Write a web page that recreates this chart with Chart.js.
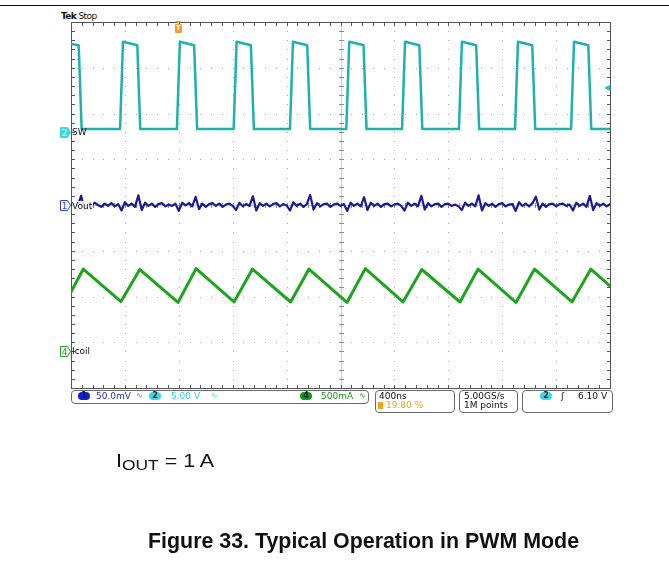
<!DOCTYPE html>
<html>
<head>
<meta charset="utf-8">
<script src="https://cdn.jsdelivr.net/npm/chart.js@4.4.0/dist/chart.umd.min.js"></script>
<style>
  body { margin: 0; background: #fff; }
  #page { position: relative; width: 669px; height: 565px; overflow: hidden; font-family: "DejaVu Sans", sans-serif; }
  #scope { position: absolute; left: 0; top: 0; }
  .abs { position: absolute; white-space: nowrap; }
  .s9 { font-size: 9px; line-height: 10px; }
  .lbl { background: rgba(255,255,255,0.9); padding-right: 1px; }
  .box { position: absolute; border: 1px solid #6a6a6a; border-radius: 4px; }
  .pill { position: absolute; width: 12px; height: 8px; border-radius: 5px; font-size: 8px; line-height: 8px; text-align: center; font-weight: bold; color: #102040; }
  .bw { font-size: 8px; }
</style>
</head>
<body>
<div id="page">
  <div class="abs" style="left:0;top:5px;width:669px;height:1px;background:#111"></div>
  <div class="abs s9" style="left:61px;top:11px;color:#111;letter-spacing:-0.6px"><b>Tek</b> Stop</div>

  <canvas id="scope" width="669" height="565"></canvas>

  <!-- trigger position marker -->
  <div class="abs" style="left:175px;top:21px;width:0;height:0;border-left:3.5px solid transparent;border-right:3.5px solid transparent;border-top:3px solid #f0a020"></div>
  <div class="abs" style="left:175px;top:24px;width:7px;height:9px;background:#f0a020;border-radius:1px;color:#fff;font-size:7px;line-height:9px;text-align:center;font-weight:bold">T</div>
  <!-- trigger level marker -->
  <div class="abs" style="left:604px;top:84px;color:#22c4d0;font-size:8px;line-height:8px">◀</div>

  <!-- channel markers -->
  <svg class="abs" style="left:60px;top:127px" width="12" height="11"><polygon points="0.5,0.5 7.5,0.5 10.5,5.5 7.5,10.5 0.5,10.5" fill="#3cd6dc" stroke="#3cd6dc"/><text x="4.5" y="9" font-size="9" fill="#e8ffff" text-anchor="middle" font-family="DejaVu Sans">2</text></svg>
  <div class="abs s9" style="left:72px;top:127px;color:#111">SW</div>
  <svg class="abs" style="left:60px;top:200px" width="12" height="11"><polygon points="0.5,0.5 7.5,0.5 10.5,5.5 7.5,10.5 0.5,10.5" fill="#fff" stroke="#3344cc"/><text x="4.5" y="9" font-size="9" fill="#3344cc" text-anchor="middle" font-family="DejaVu Sans">1</text></svg>
  <div class="abs s9 lbl" style="left:72px;top:201px;color:#111">Vout</div>
  <svg class="abs" style="left:60px;top:346px" width="12" height="11"><polygon points="0.5,0.5 7.5,0.5 10.5,5.5 7.5,10.5 0.5,10.5" fill="#fff" stroke="#22aa22"/><text x="4.5" y="9" font-size="9" fill="#22aa22" text-anchor="middle" font-family="DejaVu Sans">4</text></svg>
  <div class="abs s9" style="left:72px;top:346px;color:#111">Icoil</div>

  <!-- status bar -->
  <div class="box" style="left:71px;top:390px;width:296px;height:12px"></div>
  <div class="pill" style="left:78px;top:392px;background:#1020d8">1</div>
  <div class="abs s9" style="left:96px;top:391px;color:#2530d0">50.0mV</div>
  <div class="abs bw" style="left:136px;top:391px;color:#5060d0">∿</div>
  <div class="pill" style="left:149px;top:392px;background:#3ad8e0">2</div>
  <div class="abs s9" style="left:171px;top:391px;color:#3ccfe0">5.00 V</div>
  <div class="abs bw" style="left:211px;top:391px;color:#3ccfe0">∿</div>
  <div class="pill" style="left:300px;top:392px;background:#159a15">4</div>
  <div class="abs s9" style="left:321px;top:391px;color:#159a15">500mA</div>
  <div class="abs bw" style="left:359px;top:391px;color:#159a15">∿</div>

  <div class="box" style="left:375px;top:390px;width:78px;height:21px"></div>
  <div class="abs s9" style="left:379px;top:391px;color:#111">400ns</div>
  <div class="abs" style="left:378px;top:402px;width:5px;height:7px;background:#f0a020"></div>
  <div class="abs s9" style="left:386px;top:400px;color:#f0a020">19.80 %</div>

  <div class="box" style="left:459px;top:390px;width:57px;height:21px"></div>
  <div class="abs s9" style="left:464px;top:391px;color:#111">5.00GS/s</div>
  <div class="abs s9" style="left:464px;top:400px;color:#111">1M points</div>

  <div class="box" style="left:522px;top:390px;width:89px;height:21px"></div>
  <div class="pill" style="left:540px;top:392px;background:#3ad8e0">2</div>
  <div class="abs s9" style="left:561px;top:391px;color:#111">ʃ</div>
  <div class="abs s9" style="left:578px;top:391px;color:#111">6.10 V</div>

  <!-- captions -->
  <div class="abs" style="left:116px;top:452px;font-family:'Liberation Sans',Arial,sans-serif;font-size:18.5px;line-height:18px;color:#111;transform:scaleX(1.16);transform-origin:left top">I<span style="font-size:15px;position:relative;top:3px">OUT</span> = 1 A</div>
  <div class="abs" style="left:148px;top:531px;font-family:'Liberation Sans',Arial,sans-serif;font-size:21.4px;line-height:21px;font-weight:bold;color:#111">Figure 33. Typical Operation in PWM Mode</div>
</div>

<script>
// time axis in ns (10 div x 400 ns), vertical axis in divisions (8 div)
const timeMin = 0, timeMax = 4000;
const divMin = -4, divMax = 4;
const minorTime = 80, minorDiv = 0.2;

// SW (ch2) edges in ns and levels in div
const swFall = [68, 503, 925, 1346, 1764, 2182, 2596, 3018, 3434, 3850];
const swRise = [375, 797, 1218, 1636, 2054, 2468, 2890, 3306, 3722];
const swLow = 1.66, swHighStart = 3.57, swHighEnd = 3.49;
const swEdge = 11;

// Vout (ch1) ripple in div, one sample every 25 ns
const voutStep = 25;
const vout = [
  0.00, 0.03, -0.02, 0.20, -0.10, 0.04, -0.03, 0.05, 0.00, -0.04,
  0.03, -0.02, 0.04, -0.03, 0.02, -0.12, 0.06, -0.02, 0.03, -0.04,
  0.21, -0.11, 0.05, -0.02, 0.03, -0.04, 0.02, 0.04, -0.03, 0.01,
  -0.02, 0.03, -0.13, 0.05, -0.01, 0.04, -0.03, 0.18, -0.09, 0.03,
  -0.04, 0.02, 0.04, -0.02, 0.03, -0.04, 0.01, 0.03, -0.02, -0.11,
  0.05, -0.03, 0.02, -0.02, 0.19, -0.12, 0.04, -0.02, 0.03, -0.03,
  0.02, 0.04, -0.03, 0.02, -0.01, -0.12, 0.06, -0.02, 0.03, -0.04,
  0.02, 0.22, -0.10, 0.04, -0.03, 0.02, 0.03, -0.04, 0.01, 0.03,
  -0.02, 0.02, -0.13, 0.05, -0.02, 0.03, -0.03, 0.17, -0.11, 0.05,
  -0.02, 0.03, -0.04, 0.02, 0.03, -0.03, 0.01, 0.03, -0.02, -0.12,
  0.05, -0.02, 0.03, -0.03, 0.20, -0.10, 0.04, -0.03, 0.02, 0.03,
  -0.04, 0.02, 0.03, -0.02, 0.01, -0.03, -0.11, 0.05, -0.02, 0.03,
  -0.03, 0.21, -0.12, 0.04, -0.02, 0.03, -0.04, 0.02, 0.04, -0.03,
  0.01, 0.02, -0.13, 0.06, -0.02, 0.03, -0.03, 0.04, 0.18, -0.10,
  0.03, -0.04, 0.02, 0.03, -0.03, 0.02, 0.03, -0.02, 0.01, -0.12,
  0.05, -0.02, 0.03, -0.04, 0.20, -0.11, 0.04, -0.02, 0.03, -0.03,
  0.02
];

// Icoil (ch4) triangle corners: time in ns, level in div
const icoilTime  = [0, 91, 371, 510, 794, 928, 1210, 1347, 1630, 1766, 2048, 2184, 2464, 2603, 2887, 3021, 3302, 3440, 3718, 3858, 4000];
const icoilLevel = [-1.90, -1.40, -2.11, -1.41, -2.13, -1.39, -2.12, -1.40, -2.12, -1.40, -2.13, -1.39, -2.12, -1.41, -2.12, -1.40, -2.13, -1.40, -2.12, -1.40, -1.77];

function swPoints() {
  const pts = [{ x: timeMin, y: swHighEnd + 0.03 }];
  swFall.forEach((f, i) => {
    pts.push({ x: f - swEdge, y: swHighEnd }, { x: f + swEdge, y: swLow });
    if (i < swRise.length) {
      const r = swRise[i];
      pts.push({ x: r - swEdge, y: swLow }, { x: r + swEdge, y: swHighStart });
    }
  });
  pts.push({ x: timeMax, y: swLow });
  return pts;
}

const voutPoints = vout.map((v, i) => ({ x: i * voutStep, y: v }));
const icoilPoints = icoilTime.map((t, i) => ({ x: t, y: icoilLevel[i] }));

// dotted graticule, centre cross and frame, like the scope screen
const scopeGrid = {
  id: 'scopeGrid',
  beforeDatasetsDraw(chart) {
    const { ctx, chartArea: a, scales: { x, y } } = chart;
    const px = t => Math.round(x.getPixelForValue(t));
    const py = v => Math.round(y.getPixelForValue(v));
    const nT = Math.round((timeMax - timeMin) / minorTime);
    const nV = Math.round((divMax - divMin) / minorDiv);
    ctx.save();

    ctx.fillStyle = '#a8a8a8';
    for (let d = 1; d < 10; d++) {
      const gx = px(timeMin + d * 400);
      for (let k = 0; k <= nV; k++) ctx.fillRect(gx, py(divMin + k * minorDiv), 1, 1);
    }
    for (let d = 1; d < 8; d++) {
      const gy = py(divMin + d);
      for (let k = 0; k <= nT; k++) ctx.fillRect(px(timeMin + k * minorTime), gy, 1, 1);
    }

    // centre lines
    const cx = px((timeMin + timeMax) / 2), cy = py(0);
    ctx.fillStyle = '#cfcfcf';
    ctx.fillRect(cx, a.top, 1, a.bottom - a.top);
    ctx.fillRect(a.left, cy, a.right - a.left, 1);
    ctx.fillStyle = '#8a8a8a';
    for (let k = 0; k <= nV; k++) ctx.fillRect(cx - 2, py(divMin + k * minorDiv), 5, 1);
    for (let k = 0; k <= nT; k++) ctx.fillRect(px(timeMin + k * minorTime), cy - 2, 1, 5);

    // frame with inward ticks
    ctx.fillStyle = '#555';
    ctx.fillRect(a.left, a.top, a.right - a.left, 1);
    ctx.fillRect(a.left, a.bottom, a.right - a.left + 1, 1);
    ctx.fillRect(a.left, a.top, 1, a.bottom - a.top);
    ctx.fillRect(a.right, a.top, 1, a.bottom - a.top);
    for (let k = 1; k < nT; k++) {
      const tx = px(timeMin + k * minorTime);
      ctx.fillRect(tx, a.top, 1, 4);
      ctx.fillRect(tx, a.bottom - 3, 1, 4);
    }
    for (let k = 1; k < nV; k++) {
      const ty = py(divMin + k * minorDiv);
      ctx.fillRect(a.left, ty, 4, 1);
      ctx.fillRect(a.right - 3, ty, 4, 1);
    }
    ctx.restore();
  }
};

new Chart(document.getElementById('scope'), {
  type: 'line',
  data: {
    datasets: [
      { label: 'SW', data: swPoints(), borderColor: '#1fb0b0', borderWidth: 2.5 },
      { label: 'Vout', data: voutPoints, borderColor: '#1b1b96', borderWidth: 2.2 },
      { label: 'Icoil', data: icoilPoints, borderColor: '#1fa41f', borderWidth: 3 }
    ]
  },
  options: {
    responsive: false,
    animation: false,
    devicePixelRatio: 1,
    layout: { padding: { left: 71, top: 22, right: 59, bottom: 177 } },
    elements: {
      point: { radius: 0 },
      line: { tension: 0, borderJoinStyle: 'round', borderCapStyle: 'round' }
    },
    plugins: { legend: { display: false }, tooltip: { enabled: false } },
    scales: {
      x: { type: 'linear', display: false, min: timeMin, max: timeMax },
      y: { type: 'linear', display: false, min: divMin, max: divMax }
    }
  },
  plugins: [scopeGrid]
});
</script>
</body>
</html>
